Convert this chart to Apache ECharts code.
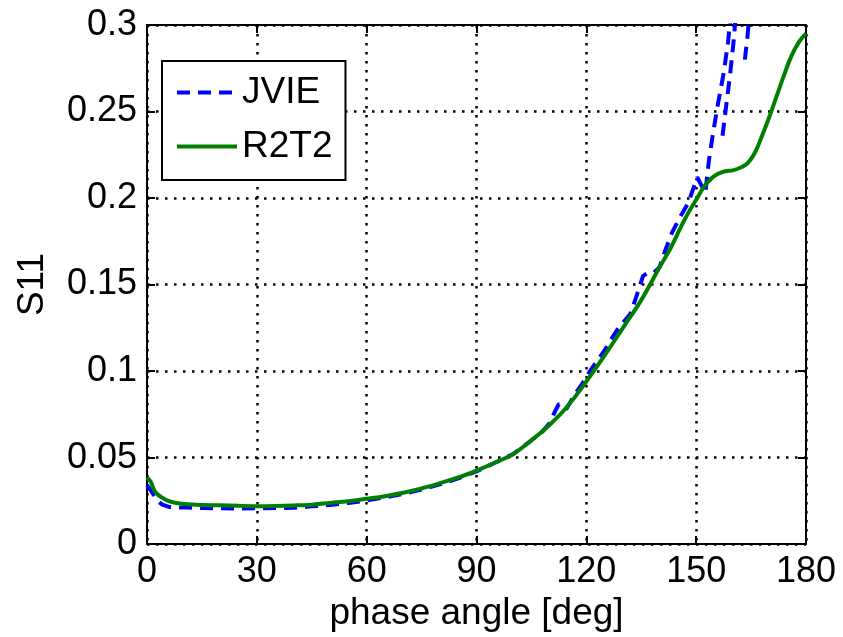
<!DOCTYPE html>
<html>
<head>
<meta charset="utf-8">
<script src="https://cdn.jsdelivr.net/npm/echarts@6/dist/echarts.min.js"></script>
<style>
html,body{margin:0;padding:0;background:#fff;}
#chart{width:843px;height:637px;}
</style>
</head>
<body>
<div id="chart"></div>
<script>
// ---- data ----
const xTicks = [0, 30, 60, 90, 120, 150, 180];
const xTickLabels = ['0', '30', '60', '90', '120', '150', '180'];
const yTickLabels = ['0', '0.05', '0.1', '0.15', '0.2', '0.25', '0.3'];
const seriesNames = ['JVIE', 'R2T2'];
const xAxisTitle = 'phase angle [deg]';
const yAxisTitle = 'S11';

const r2t2X = [0, 1, 2, 3, 4, 6, 8, 11, 15, 20, 25, 30, 35, 40, 45, 50, 55, 60, 65, 70, 75, 80, 85, 90, 95, 100, 105, 110, 115, 120, 125, 130, 135, 140, 143, 146, 148, 150, 152, 154, 156, 158, 160, 162, 164, 166, 168, 170, 172, 174, 176, 178, 180];
const r2t2Y = [0.0385, 0.036, 0.031, 0.0285, 0.027, 0.0248, 0.0238, 0.023, 0.0226, 0.0224, 0.0221, 0.0219, 0.022, 0.0223, 0.0228, 0.0238, 0.0248, 0.0262, 0.0277, 0.0297, 0.0322, 0.0352, 0.0385, 0.0425, 0.047, 0.052, 0.060, 0.069, 0.080, 0.094, 0.109, 0.125, 0.141, 0.160, 0.171, 0.184, 0.192, 0.199, 0.206, 0.211, 0.214, 0.2155, 0.216, 0.2175, 0.220, 0.226, 0.236, 0.247, 0.259, 0.271, 0.282, 0.290, 0.295];

// null entries break the dashed line into separate strands
const jvieX = [0, 1, 2, 3, 4, 6, 8, 11, 15, 20, 25, 30, 35, 40, 45, 50, 55, 60, 65, 70, 75, 80, 85, 90, 95, 100, 105, 108, 110, 111.5, 112.5, 113.5, 114.5, 117, 119, 121, 123, 125, 127, 128.5, 130, 132, 133.5, 135.5, 137, 138.5, 140, 141.6, 143.4, 145.6, 147.8, 150.3, 151.5, 152.5, 153.5, 154.5, 156, 157.5, 158.7, 159.6, null, 157.2, 158.3, 159.3, 160.2, 161, null, 163.3, 164, 164.7];
const jvieY = [0.034, 0.031, 0.028, 0.025, 0.023, 0.0215, 0.0212, 0.0212, 0.0208, 0.0207, 0.0206, 0.0207, 0.0208, 0.021, 0.0218, 0.0226, 0.0238, 0.0252, 0.027, 0.029, 0.0315, 0.0345, 0.038, 0.042, 0.047, 0.052, 0.060, 0.065, 0.070, 0.077, 0.081, 0.080, 0.078, 0.087, 0.093, 0.100, 0.106, 0.112, 0.119, 0.124, 0.128, 0.133, 0.142, 0.155, 0.157, 0.157, 0.160, 0.170, 0.180, 0.189, 0.197, 0.212, 0.207, 0.203, 0.222, 0.236, 0.255, 0.272, 0.290, 0.310, null, 0.236, 0.255, 0.272, 0.290, 0.310, null, 0.280, 0.293, 0.310];

// ---- build ----
const FONT = "'Liberation Sans', Arial, Helvetica, sans-serif";
const pair = (xs, ys) => xs.map((x, i) => (x === null || ys[i] === null) ? [null, null] : [x, ys[i]]);

const xMin = xTicks[0], xMax = xTicks[xTicks.length - 1], xInt = xTicks[1] - xTicks[0];
const yMin = 0, yMax = 0.3, yInt = 0.05;

const gridLine = { show: true, lineStyle: { color: '#000', width: 2.5, type: [2.5, 6.5] } };
const tickIn = { show: true, inside: true, length: 8, lineStyle: { color: '#000', width: 2 } };
const axLine = { show: true, onZero: false, lineStyle: { color: '#000', width: 2 } };

const chart = echarts.init(document.getElementById('chart'), null, { renderer: 'canvas' });
chart.setOption({
  animation: false,
  backgroundColor: '#fff',
  textStyle: { fontFamily: FONT },
  grid: { left: 147, right: 37, top: 25, bottom: 90 },
  legend: {
    orient: 'vertical',
    left: 162, top: 61,
    padding: [13, 13, 15, 13],
    itemWidth: 60, itemHeight: 40, itemGap: 17,
    backgroundColor: '#fff',
    borderColor: '#000', borderWidth: 2, borderRadius: 0,
    itemStyle: { color: 'rgba(0,0,0,0)', borderWidth: 0, opacity: 0 },
    lineStyle: { width: 4 },
    textStyle: { fontSize: 37, color: '#000', fontFamily: FONT },
    data: seriesNames
  },
  xAxis: [{
    type: 'value', min: xMin, max: xMax, interval: xInt,
    axisLine: axLine, axisTick: tickIn, splitLine: gridLine,
    axisLabel: { fontSize: 36, color: '#000', margin: 10, fontFamily: FONT,
      formatter: v => xTickLabels[xTicks.indexOf(v)] },
    name: xAxisTitle, nameLocation: 'middle', nameGap: 48,
    nameTextStyle: { fontSize: 37, color: '#000', fontFamily: FONT }
  }, {
    type: 'value', position: 'top', min: xMin, max: xMax, interval: xInt,
    axisLine: axLine, axisTick: tickIn, splitLine: { show: false }, axisLabel: { show: false }
  }],
  yAxis: [{
    type: 'value', min: yMin, max: yMax, interval: yInt,
    axisLine: axLine, axisTick: tickIn, splitLine: gridLine,
    axisLabel: { fontSize: 36, color: '#000', margin: 10, fontFamily: FONT,
      formatter: v => yTickLabels[Math.round(v / yInt)] },
    name: yAxisTitle, nameLocation: 'middle', nameGap: 96, nameRotate: 90,
    nameTextStyle: { fontSize: 37, color: '#000', fontFamily: FONT }
  }, {
    type: 'value', position: 'right', min: yMin, max: yMax, interval: yInt,
    axisLine: axLine, axisTick: tickIn, splitLine: { show: false }, axisLabel: { show: false }
  }],
  series: [{
    name: seriesNames[0], type: 'line', xAxisIndex: 0, yAxisIndex: 0,
    data: pair(jvieX, jvieY), showSymbol: false, symbol: 'none',
    connectNulls: false, clip: true,
    lineStyle: { color: '#0000ff', width: 4, type: [13, 8] },
    itemStyle: { color: '#0000ff' }
  }, {
    name: seriesNames[1], type: 'line', xAxisIndex: 0, yAxisIndex: 0,
    data: pair(r2t2X, r2t2Y), showSymbol: false, symbol: 'none', smooth: 0.4, clip: true,
    lineStyle: { color: '#008000', width: 4 },
    itemStyle: { color: '#008000' }
  }]
});
</script>
</body>
</html>
